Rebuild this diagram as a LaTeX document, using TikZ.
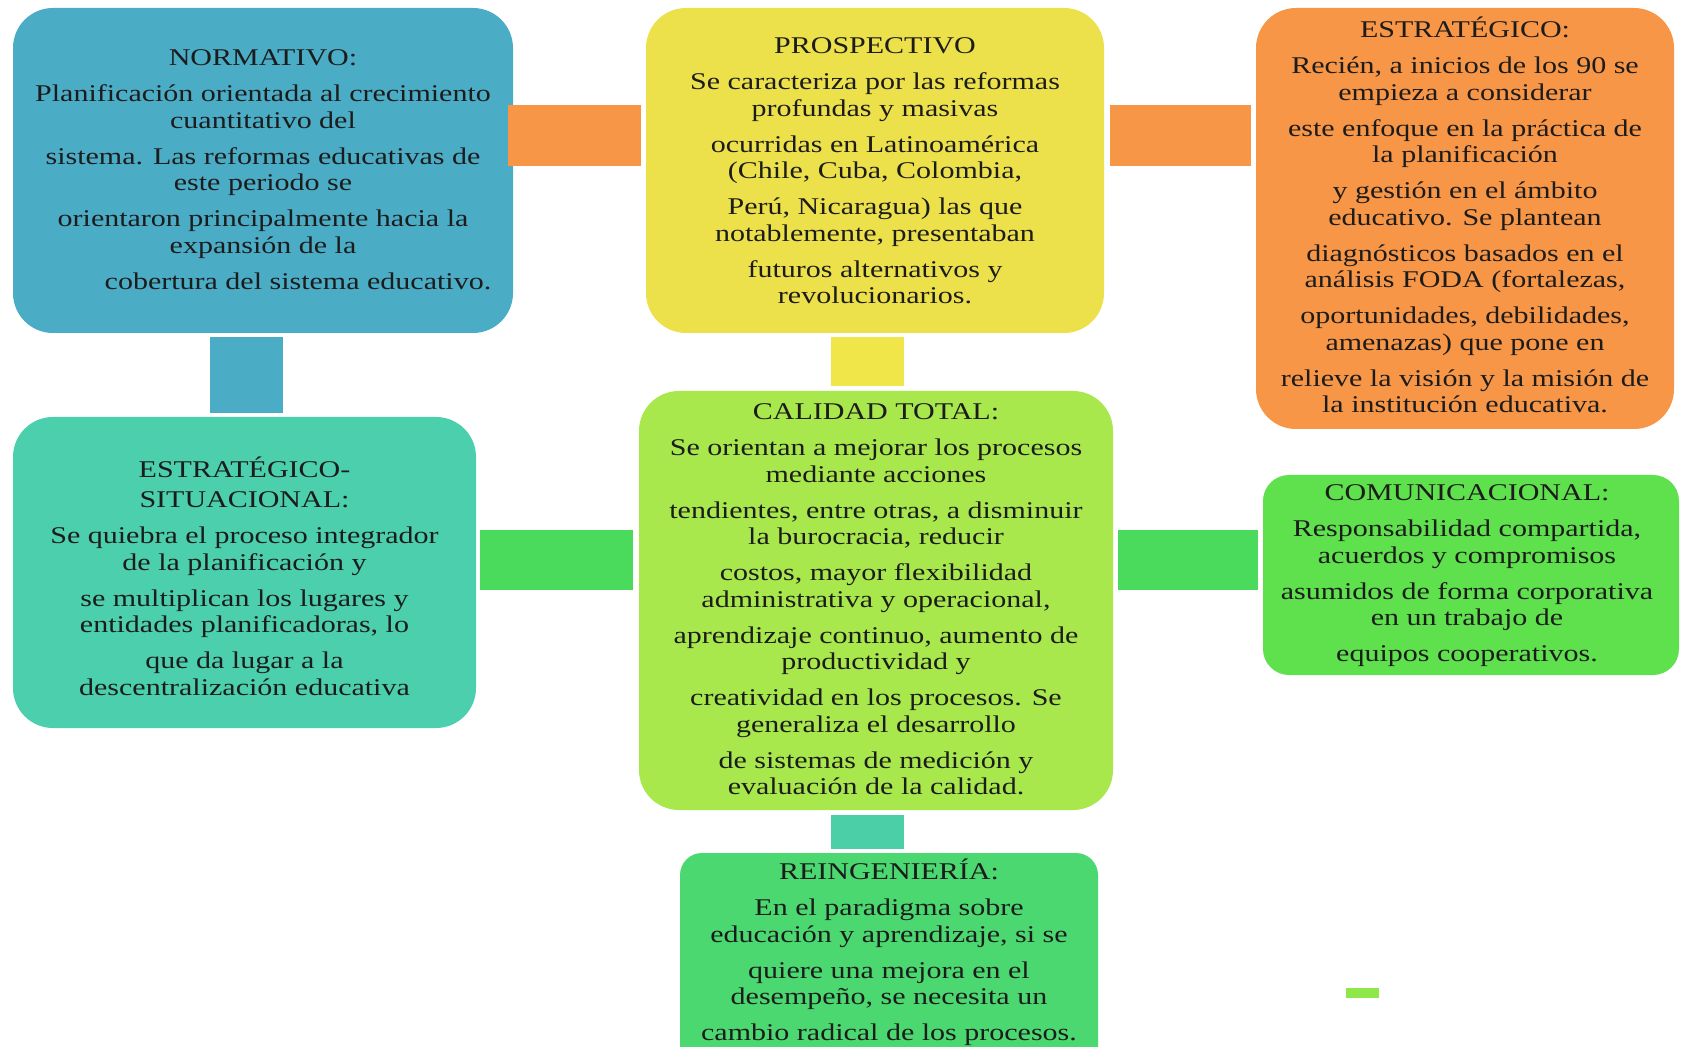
\documentclass[tikz,border=0pt]{standalone}
\usepackage{fontspec}
\setmainfont{Liberation Serif}[FakeStretch=1.25]
\usetikzlibrary{calc}
\definecolor{normblue}{HTML}{4BACC6}
\definecolor{prosyellow}{HTML}{EDE14B}
\definecolor{estrorange}{HTML}{F79646}
\definecolor{esteal}{HTML}{4BCFAD}
\definecolor{ctlime}{HTML}{A8E84C}
\definecolor{comgreen}{HTML}{5FE04D}
\definecolor{reingreen}{HTML}{4BD870}
\definecolor{barorange}{HTML}{F79646}
\definecolor{baryellow}{HTML}{F0E64A}
\definecolor{bargreen}{HTML}{4ADB5C}
\definecolor{barteal}{HTML}{4ACFA6}
\definecolor{dashlime}{HTML}{8EE84A}
\definecolor{inkdark}{HTML}{1C1C1C}
\newcommand{\boxfont}{\fontsize{12}{13.25}\selectfont}

\begin{document}
\begin{tikzpicture}[
  x=0.5pt, y=-0.5pt,
  panel/.style={rectangle, rounded corners=20pt, inner sep=0pt},
  blurb/.style={anchor=north, align=center, inner sep=0pt, font=\boxfont, text=inkdark},
  bar/.style={line width=30.5pt},
  vbar/.style={line width=36.5pt},
]
\path[use as bounding box, clip] (0,0) rectangle (1681,1047);
\fill[white] (0,0) rectangle (1681,1047);

% boxes
\node[panel, fill=normblue, minimum width=250pt, minimum height=162.5pt] (norm) at (263,170.5) {};
\node[panel, fill=prosyellow, minimum width=229pt, minimum height=162.5pt] (pros) at (875,170.5) {};
\node[panel, fill=estrorange, minimum width=209pt, minimum height=210.5pt] (estr) at (1465,218.5) {};
\node[panel, fill=esteal, minimum width=231.5pt, minimum height=155.5pt] (es) at (244.5,572.5) {};
\node[panel, fill=ctlime, minimum width=237pt, minimum height=209.5pt] (ct) at (876,600.5) {};
\node[panel, fill=comgreen, rounded corners=13pt, minimum width=208pt, minimum height=100pt] (com) at (1471,575) {};
\node[panel, fill=reingreen, rounded corners=11pt, minimum width=209pt, minimum height=120pt] (rein) at (889,973) {};

% connectors
\draw[bar, barorange] ($(norm.east)+(-5,-35)$) -- ($(pros.west)+(-5,-35)$);
\draw[bar, barorange] ($(pros.east)+(6,-35)$) -- ($(estr.west)+(-5,-83)$);
\draw[vbar, normblue] ($(norm.south)+(-16.5,4)$) -- ($(es.north)+(2,-4)$);
\draw[vbar, baryellow] ($(pros.south)+(-7.5,4)$) -- ($(ct.north)+(-8.5,-5)$);
\draw[bar, line width=30pt, bargreen] ($(es.east)+(4,-12.5)$) -- ($(ct.west)+(-6,-40.5)$);
\draw[bar, line width=30pt, bargreen] ($(ct.east)+(5,-40.5)$) -- ($(com.west)+(-5,-15)$);
\draw[vbar, barteal] ($(ct.south)+(-8.5,5)$) -- ($(rein.north)+(-21.5,-4)$);
\fill[dashlime] (1346,988) rectangle (1379,998);

% texts
\node[blurb] (normtxt) at ($(norm.north)+(0,42)$) {NORMATIVO:\\[4.75pt]
  Planificación orientada al crecimiento\\ cuantitativo del\\[4.75pt]
  sistema. Las reformas educativas de\\ este periodo se\\[4.75pt]
  orientaron principalmente hacia la\\ expansión de la\\[4.75pt]
  \hspace*{35pt}cobertura del sistema educativo.};
\node[blurb] (prostxt) at ($(pros.north)+(0,30)$) {PROSPECTIVO\\[4.75pt]
  Se caracteriza por las reformas\\ profundas y masivas\\[4.75pt]
  ocurridas en Latinoamérica\\ (Chile, Cuba, Colombia,\\[4.75pt]
  Perú, Nicaragua) las que\\ notablemente, presentaban\\[4.75pt]
  futuros alternativos y\\ revolucionarios.};
\node[blurb] (estrtxt) at ($(estr.north)+(0,9)$) {ESTRATÉGICO:\\[4.75pt]
  Recién, a inicios de los 90 se\\ empieza a considerar\\[4.75pt]
  este enfoque en la práctica de\\ la planificación\\[4.75pt]
  y gestión en el ámbito\\ educativo. Se plantean\\[4.75pt]
  diagnósticos basados en el\\ análisis FODA (fortalezas,\\[4.75pt]
  oportunidades, debilidades,\\ amenazas) que pone en\\[4.75pt]
  relieve la visión y la misión de\\ la institución educativa.};
\node[blurb] (estxt) at ($(es.north)+(0,40)$) {ESTRATÉGICO-\\[1.75pt] SITUACIONAL:\\[4.75pt]
  Se quiebra el proceso integrador\\ de la planificación y\\[4.75pt]
  se multiplican los lugares y\\ entidades planificadoras, lo\\[4.75pt]
  que da lugar a la\\ descentralización educativa};
\node[blurb] (cttxt) at ($(ct.north)+(0,13)$) {CALIDAD TOTAL:\\[4.75pt]
  Se orientan a mejorar los procesos\\ mediante acciones\\[4.75pt]
  tendientes, entre otras, a disminuir\\ la burocracia, reducir\\[4.75pt]
  costos, mayor flexibilidad\\ administrativa y operacional,\\[4.75pt]
  aprendizaje continuo, aumento de\\ productividad y\\[4.75pt]
  creatividad en los procesos. Se\\ generaliza el desarrollo\\[4.75pt]
  de sistemas de medición y\\ evaluación de la calidad.};
\node[blurb] (comtxt) at ($(com.north)+(-4,10)$) {COMUNICACIONAL:\\[4.75pt]
  Responsabilidad compartida,\\ acuerdos y compromisos\\[4.75pt]
  asumidos de forma corporativa\\ en un trabajo de\\[4.75pt]
  equipos cooperativos.};
\node[blurb] (reintxt) at ($(rein.north)+(0,6)$) {REINGENIERÍA:\\[4.75pt]
  En el paradigma sobre\\ educación y aprendizaje, si se\\[4.75pt]
  quiere una mejora en el\\ desempeño, se necesita un\\[4.75pt]
  cambio radical de los procesos.};
\end{tikzpicture}
\end{document}
